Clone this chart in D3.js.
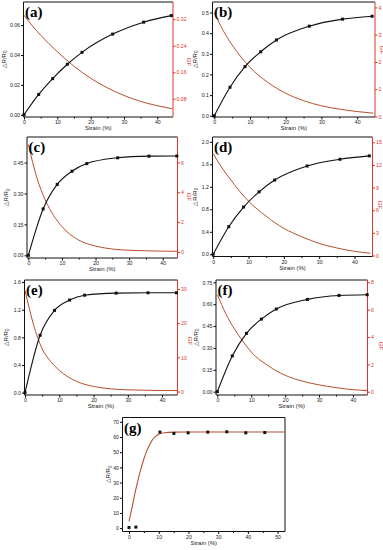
<!DOCTYPE html>
<html>
<head>
<meta charset="utf-8">
<script src="https://cdn.jsdelivr.net/npm/d3@7"></script>
<style>
  body { margin: 0; background: #fff; }
  text { font-family: "Liberation Sans", Arial, sans-serif; }
</style>
</head>
<body>
<script>
// strain points shared by panels a-f
const strain = [0, 4.4, 8.6, 13, 17.4, 26.6, 35.9, 44.2];
const drA = [0, 0.0136, 0.0242, 0.0338, 0.0418, 0.054, 0.062, 0.0664];
const drB = [0, 0.138, 0.238, 0.310, 0.367, 0.434, 0.468, 0.482];
const drC = [0, 0.225, 0.344, 0.408, 0.445, 0.473, 0.481, 0.482];
const drD = [0, 0.49, 0.84, 1.11, 1.32, 1.57, 1.69, 1.75];
const drE = [0, 0.83, 1.19, 1.34, 1.41, 1.44, 1.445, 1.445];
const drF = [0, 0.245, 0.40, 0.498, 0.567, 0.633, 0.66, 0.665];

// GF curves read at these strains
const gfStrain = [0, 2.5, 5, 7.5, 10, 15, 20, 25, 30, 35, 40, 44.5];
const gfA = [0.332, 0.30, 0.272, 0.246, 0.222, 0.178, 0.142, 0.113, 0.09, 0.072, 0.059, 0.05];
const gfB = [3.8, 3.15, 2.62, 2.18, 1.8, 1.25, 0.85, 0.58, 0.39, 0.27, 0.18, 0.12];
const gfC = [7.2, 5.0, 3.5, 2.45, 1.7, 0.8, 0.4, 0.2, 0.12, 0.08, 0.06, 0.05];
const gfD = [13.5, 11.6, 10.0, 8.5, 7.2, 5.2, 3.6, 2.5, 1.6, 1.0, 0.55, 0.3];
const gfE = [29.6, 19.5, 12.5, 8.8, 6.2, 3.0, 1.5, 0.8, 0.5, 0.4, 0.3, 0.3];
const gfF = [7.1, 5.7, 4.6, 3.7, 2.9, 1.9, 1.2, 0.78, 0.5, 0.3, 0.15, 0.07];

// panel g
const strainG = [0, 2.3, 10.4, 15.1, 19.9, 26.5, 32.9, 39.3, 45.7];
const drG = [0.4, 0.7, 63.2, 62.3, 62.7, 63.2, 63.4, 62.7, 62.9];
const fitStrainG = [0, 1, 2, 3, 4, 5, 6, 7, 8, 10, 12, 15, 20, 30, 40, 52.5];
const fitG = [4.5, 13.5, 23, 31.5, 39, 45.5, 51, 55, 58.5, 61.8, 62.8, 63.2, 63.3, 63.3, 63.3, 63.3];

const W = 383, H = 550;
const RED = "#e0342c", BROWN = "#b5512b";
const TICK_FS = "5.2px", TITLE_FS = "6px";

const svg = d3.select("body").append("svg")
  .attr("width", W)
  .attr("height", H);

function zip(xs, ys) { return xs.map((v, i) => [v, ys[i]]); }

function panel(o) {
  const g = svg.append("g");
  const x = d3.scaleLinear().domain(o.xd).range([o.l, o.r]);
  const y = d3.scaleLinear().domain(o.yd).range([o.b, o.t]);

  const clipId = "clip" + o.name;
  svg.append("clipPath").attr("id", clipId)
    .append("rect").attr("x", o.l).attr("y", o.t)
    .attr("width", o.r - o.l).attr("height", o.b - o.t);

  // bottom axis
  g.append("g").attr("transform", `translate(0,${o.b})`)
    .call(d3.axisBottom(x).tickValues(o.xMinor).tickSize(1.5).tickFormat("").tickSizeOuter(0))
    .call(a => a.select(".domain").remove());
  g.append("g").attr("transform", `translate(0,${o.b})`)
    .call(d3.axisBottom(x).tickValues(o.xTicks).tickSize(2.5).tickPadding(1).tickSizeOuter(0))
    .call(a => a.select(".domain").remove())
    .selectAll("text").style("font-size", TICK_FS).attr("fill", "#222");

  // left axis
  g.append("g").attr("transform", `translate(${o.l},0)`)
    .call(d3.axisLeft(y).tickValues(o.yTicks).tickSize(2.5).tickPadding(1)
      .tickFormat(d3.format(o.yFmt)).tickSizeOuter(0))
    .call(a => a.select(".domain").remove())
    .selectAll("text").style("font-size", TICK_FS).attr("fill", "#222");

  let y2 = null;
  if (o.gf) {
    y2 = d3.scaleLinear().domain(o.y2d).range([o.b, o.t]);
    const ax = g.append("g").attr("transform", `translate(${o.r},0)`)
      .call(d3.axisRight(y2).tickValues(o.y2Ticks).tickSize(2.5).tickPadding(1)
        .tickFormat(d3.format(o.y2Fmt)).tickSizeOuter(0));
    ax.select(".domain").remove();
    ax.selectAll("line").attr("stroke", RED);
    ax.selectAll("text").style("font-size", TICK_FS).attr("fill", RED);
  }

  // frame
  g.append("line").attr("x1", o.l).attr("x2", o.r).attr("y1", o.t).attr("y2", o.t).attr("stroke", "#111");
  g.append("line").attr("x1", o.l).attr("x2", o.r).attr("y1", o.b).attr("y2", o.b).attr("stroke", "#111");
  g.append("line").attr("x1", o.l).attr("x2", o.l).attr("y1", o.t).attr("y2", o.b).attr("stroke", "#111");
  g.append("line").attr("x1", o.r).attr("x2", o.r).attr("y1", o.t).attr("y2", o.b)
    .attr("stroke", o.gf ? RED : "#111");

  const plot = g.append("g").attr("clip-path", `url(#${clipId})`);

  if (o.gf) {
    plot.append("path")
      .datum(zip(gfStrain, o.gf))
      .attr("fill", "none")
      .attr("stroke", BROWN)
      .attr("stroke-width", 1)
      .attr("d", d3.line().x(d => x(d[0])).y(d => y2(d[1])).curve(d3.curveMonotoneX));
  }

  plot.append("path")
    .datum(zip(o.fitX, o.fitY))
    .attr("fill", "none")
    .attr("stroke", o.fitColor)
    .attr("stroke-width", 1.1)
    .attr("d", d3.line().x(d => x(d[0])).y(d => y(d[1])).curve(d3.curveMonotoneX));

  g.selectAll(".pt" + o.name)
    .data(zip(o.px, o.py))
    .join("rect")
    .attr("x", d => x(d[0]) - 1.5)
    .attr("y", d => y(d[1]) - 1.5)
    .attr("width", 3)
    .attr("height", 3)
    .attr("fill", "#111");

  // titles
  g.append("text")
    .attr("x", (o.l + o.r) / 2)
    .attr("y", o.b + 13)
    .attr("text-anchor", "middle")
    .style("font-size", TITLE_FS)
    .attr("fill", "#222")
    .text("Strain (%)");

  const yl = g.append("text")
    .attr("transform", `translate(${o.l - o.ylOff},${(o.t + o.b) / 2}) rotate(-90)`)
    .attr("text-anchor", "middle")
    .style("font-size", TITLE_FS)
    .attr("fill", "#222");
  yl.append("tspan").text("\u25B3R/R");
  yl.append("tspan").attr("dy", 1.5).style("font-size", "4.5px").text("0");

  if (o.gf) {
    g.append("text")
      .attr("transform", `translate(${o.r + o.gfOff},${o.gfY}) rotate(90)`)
      .attr("text-anchor", "middle")
      .style("font-size", TITLE_FS)
      .attr("fill", RED)
      .text("GF");
  }

  g.append("text")
    .attr("x", o.l + 1.5)
    .attr("y", o.t + 15)
    .style("font-family", "'Liberation Serif', 'Times New Roman', serif")
    .style("font-size", "15px")
    .style("font-weight", "bold")
    .attr("fill", "#000")
    .text(o.label);
}

const xTicks = [0, 10, 20, 30, 40];
const xMinor = [5, 15, 25, 35];

panel({ name: "a", label: "(a)", l: 23.5, r: 173, t: 2, b: 117,
  xd: [-0.15, 44.7], xTicks, xMinor,
  yd: [-0.0015, 0.0755], yTicks: [0, 0.02, 0.04, 0.06], yFmt: ".2f",
  y2d: [0.025, 0.372], y2Ticks: [0.08, 0.16, 0.24, 0.32], y2Fmt: ".2f",
  px: strain, py: drA, fitX: strain, fitY: drA, fitColor: "#111", gf: gfA,
  ylOff: 18, gfOff: 14, gfY: 62 });

panel({ name: "b", label: "(b)", l: 212.5, r: 375, t: 2, b: 117,
  xd: [-0.5, 45], xTicks, xMinor,
  yd: [-0.006, 0.551], yTicks: [0, 0.1, 0.2, 0.3, 0.4, 0.5], yFmt: ".1f",
  y2d: [-0.02, 4.2], y2Ticks: [0, 1, 2, 3, 4], y2Fmt: "d",
  px: strain, py: drB, fitX: strain, fitY: drB, fitColor: "#111", gf: gfB,
  ylOff: 16, gfOff: 4.5, gfY: 50 });

panel({ name: "c", label: "(c)", l: 27, r: 177.5, t: 137, b: 258,
  xd: [-0.4, 44.4], xTicks, xMinor,
  yd: [-0.013, 0.574], yTicks: [0, 0.15, 0.30, 0.45], yFmt: ".2f",
  y2d: [-0.4, 7.7], y2Ticks: [0, 2, 4, 6], y2Fmt: "d",
  px: strain, py: drC, fitX: strain, fitY: drC, fitColor: "#111", gf: gfC,
  ylOff: 19, gfOff: 9, gfY: 197 });

panel({ name: "d", label: "(d)", l: 212.5, r: 372.5, t: 137, b: 256.5,
  xd: [-0.2, 45.1], xTicks, xMinor,
  yd: [-0.04, 2.086], yTicks: [0, 0.4, 0.8, 1.2, 1.6, 2.0], yFmt: ".1f",
  y2d: [-0.13, 15.7], y2Ticks: [0, 3, 6, 9, 12, 15], y2Fmt: "d",
  px: strain, py: drD, fitX: strain, fitY: drD, fitColor: "#111", gf: gfD,
  ylOff: 16, gfOff: 5.5, gfY: 205 });

panel({ name: "e", label: "(e)", l: 24.5, r: 177.5, t: 280, b: 395,
  xd: [-0.15, 44.5], xTicks, xMinor,
  yd: [-0.034, 1.63], yTicks: [0, 0.4, 0.8, 1.2, 1.6], yFmt: ".1f",
  y2d: [-1.0, 32.6], y2Ticks: [0, 10, 20, 30], y2Fmt: "d",
  px: strain, py: drE, fitX: strain, fitY: drE, fitColor: "#111", gf: gfE,
  ylOff: 17, gfOff: 10.5, gfY: 341 });

panel({ name: "f", label: "(f)", l: 216, r: 367.5, t: 280, b: 395,
  xd: [-0.4, 44.3], xTicks, xMinor,
  yd: [-0.023, 0.766], yTicks: [0, 0.15, 0.30, 0.45, 0.60, 0.75], yFmt: ".2f",
  y2d: [-0.24, 8.17], y2Ticks: [0, 2, 4, 6, 8], y2Fmt: "d",
  px: strain, py: drF, fitX: strain, fitY: drF, fitColor: "#111", gf: gfF,
  ylOff: 18.5, gfOff: 11.5, gfY: 346 });

panel({ name: "g", label: "(g)", l: 122.5, r: 285, t: 417.5, b: 531.5,
  xd: [-2.2, 52.5], xTicks: [0, 10, 20, 30, 40, 50], xMinor: [5, 15, 25, 35, 45],
  yd: [-2.2, 72.8], yTicks: [0, 10, 20, 30, 40, 50, 60, 70], yFmt: "d",
  px: strainG, py: drG, fitX: fitStrainG, fitY: fitG, fitColor: BROWN, gf: null,
  ylOff: 12.5, gfOff: 0, gfY: 0 });
</script>
</body>
</html>
